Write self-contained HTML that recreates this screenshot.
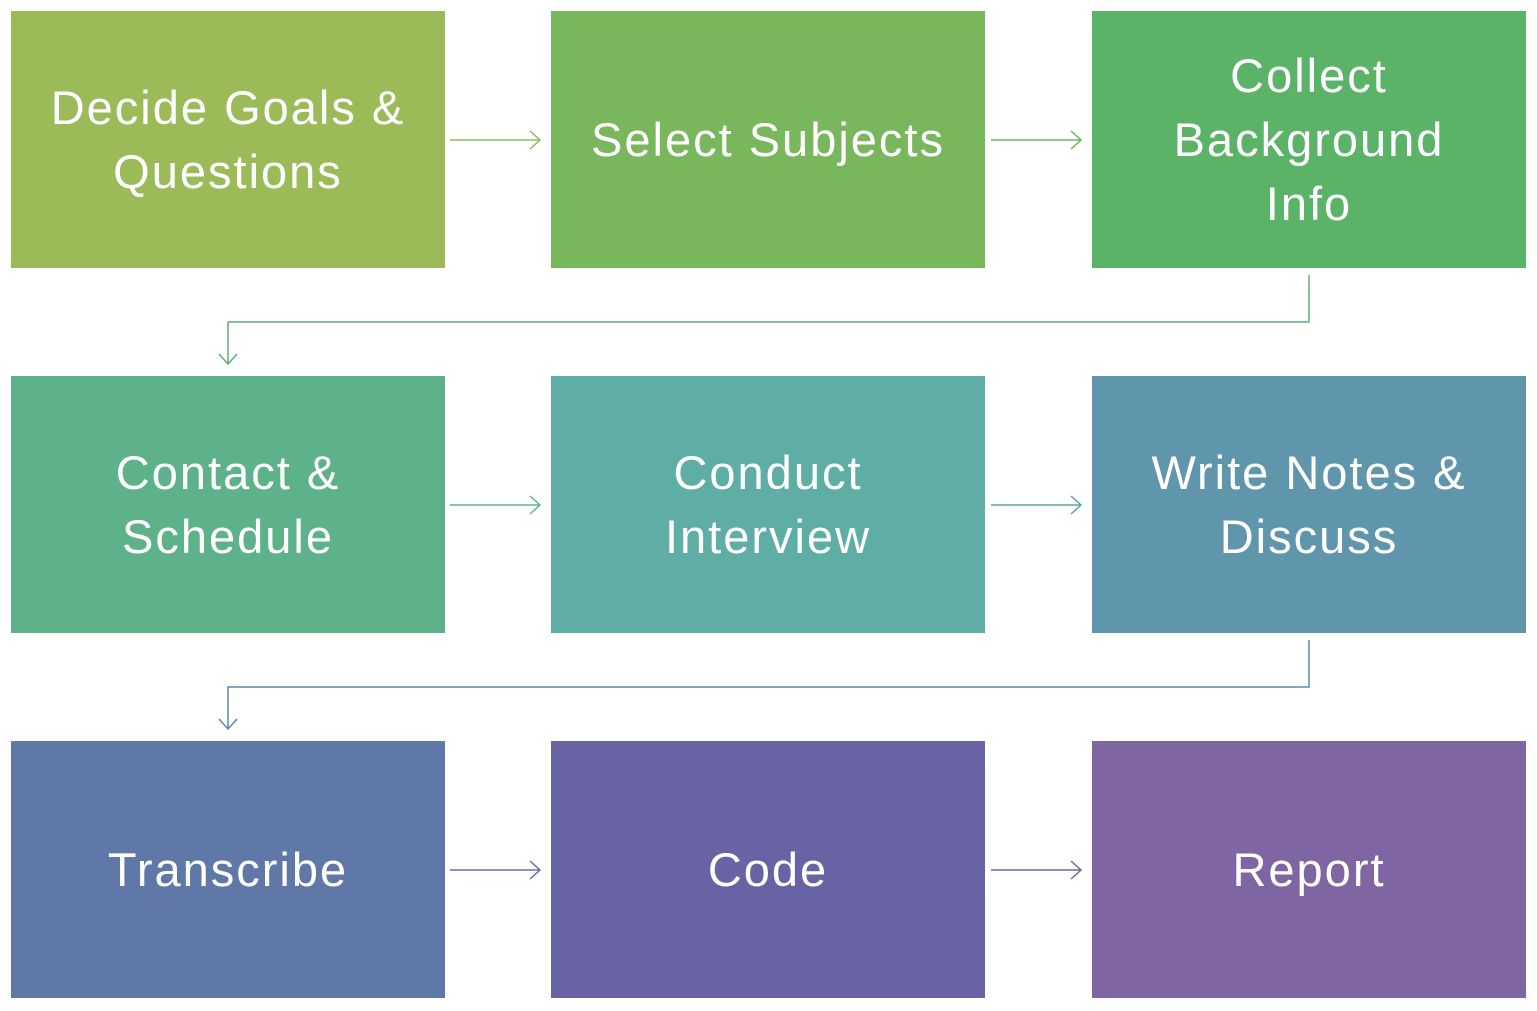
<!DOCTYPE html>
<html><head><meta charset="utf-8"><style>
body{margin:0;width:1537px;height:1011px;background:#fff;overflow:hidden;position:relative;font-family:"Liberation Sans",sans-serif}
.b{position:absolute;width:434px;height:257px;display:flex;align-items:center;justify-content:center;text-align:center;color:#fff;font-size:47px;line-height:64px;letter-spacing:2px}
svg{position:absolute;left:0;top:0}
</style></head><body>
<div class="b" style="left:11px;top:11px;background:#9BBB59">Decide Goals &amp;<br>Questions</div>
<div class="b" style="left:551px;top:11px;background:#78B75B">Select Subjects</div>
<div class="b" style="left:1092px;top:11px;background:#5BB368">Collect<br>Background<br>Info</div>
<div class="b" style="left:11px;top:376px;background:#5EB289">Contact &amp;<br>Schedule</div>
<div class="b" style="left:551px;top:376px;background:#5EAEA5">Conduct<br>Interview</div>
<div class="b" style="left:1092px;top:376px;background:#5F96AC">Write Notes &amp;<br>Discuss</div>
<div class="b" style="left:11px;top:741px;background:#6078A8">Transcribe</div>
<div class="b" style="left:551px;top:741px;background:#6763A5">Code</div>
<div class="b" style="left:1092px;top:741px;background:#7F65A1">Report</div>
<svg width="1537" height="1011" fill="none" stroke-width="1.5">
<g stroke="#8DBB5A"><path d="M450 140H540M530 131L540 140L530 149"/></g>
<g stroke="#6DB55F"><path d="M991 140H1081M1071 131L1081 140L1071 149"/></g>
<g stroke="#5CB274"><path d="M1309 275V322H228V364M219 354L228 364L237 354"/></g>
<g stroke="#5EB097"><path d="M450 505H540M530 496L540 505L530 514"/></g>
<g stroke="#5EA3A8"><path d="M991 505H1081M1071 496L1081 505L1071 514"/></g>
<g stroke="#6087AA"><path d="M1309 640V687H228V729M219 719L228 729L237 719"/></g>
<g stroke="#646EA7"><path d="M450 870H540M530 861L540 870L530 879"/></g>
<g stroke="#7264A3"><path d="M991 870H1081M1071 861L1081 870L1071 879"/></g>
</svg>
</body></html>
